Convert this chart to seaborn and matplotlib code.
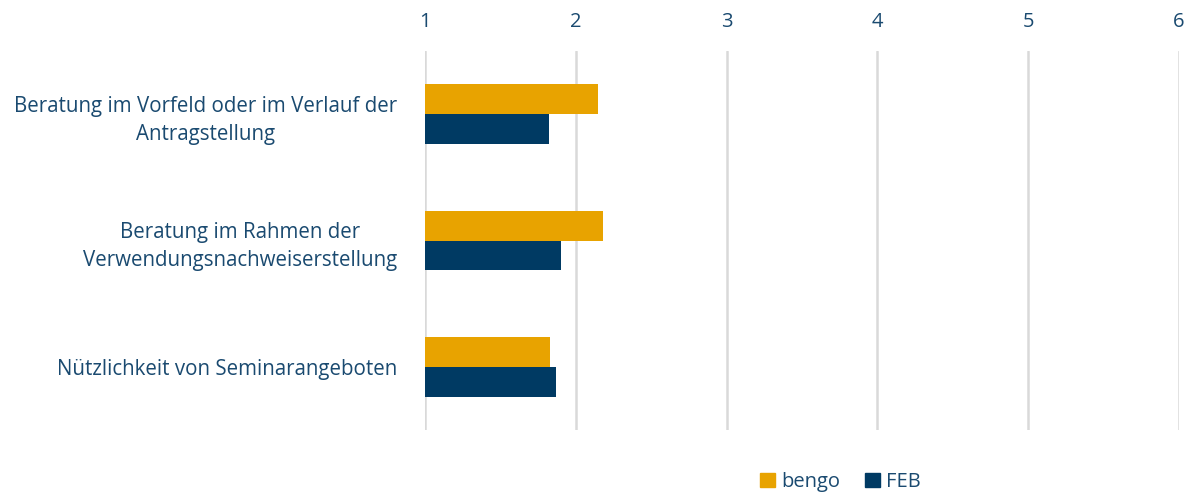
import pandas as pd
import numpy as np
import matplotlib
matplotlib.use('Agg')
import matplotlib.pyplot as plt
import seaborn as sns
from matplotlib.patches import Patch

categories = ['Beratung im Vorfeld oder im Verlauf der\nAntragstellung',
              'Beratung im Rahmen der\nVerwendungsnachweiserstellung',
              'Nützlichkeit von Seminarangeboten']
bengo = [2.15, 2.18, 1.83]
feb = [1.82, 1.90, 1.87]
series = ['bengo', 'FEB']
x_ticks = [1, 2, 3, 4, 5, 6]

colors = {'bengo': '#E8A300', 'FEB': '#003A63'}
text_color = '#1A4A70'

df = pd.DataFrame({
    'Kategorie': categories * 2,
    'Wert': bengo + feb,
    'Reihe': ['bengo'] * 3 + ['FEB'] * 3,
})

sns.set_theme(style="white")
plt.rcParams['font.family'] = ['Open Sans', 'DejaVu Sans']

fig = plt.figure(figsize=(11.92, 4.97), dpi=100)
ax = fig.add_axes([0.3565, 0.135, 0.989 - 0.3565, 0.762])

sns.barplot(data=df, y='Kategorie', x='Wert', hue='Reihe', orient='h',
            palette=colors, width=0.474, ax=ax, legend=False, saturation=1,
            linewidth=0)

# Balken beginnen bei 1 (Achsenursprung)
for p in ax.patches:
    w = p.get_width()
    p.set_x(1)
    p.set_width(w - 1)

ax.set_xlim(1, 6)
ax.set_ylim(2.5, -0.5)
ax.set_xticks(x_ticks)
ax.xaxis.tick_top()
ax.tick_params(axis='x', length=0, labelsize=14.5, colors=text_color, pad=14)
ax.tick_params(axis='y', length=0, labelsize=14.8, colors=text_color, pad=20)
for lab in ax.get_yticklabels():
    lab.set_multialignment('center')
    lab.set_linespacing(1.45)
ax.set_xlabel('')
ax.set_ylabel('')
ax.grid(axis='x', color='#D9D9D9', linewidth=1.8)
ax.set_axisbelow(True)
for s in ax.spines.values():
    s.set_visible(False)

handles = [Patch(color=colors[s], label=s) for s in series]
leg = fig.legend(handles=handles, loc='center', bbox_to_anchor=(0.705, 0.03),
                 ncol=2, frameon=False, fontsize=14.5, handlelength=0.75,
                 handleheight=0.75, handletextpad=0.3, columnspacing=1.2)
for t in leg.get_texts():
    t.set_color(text_color)

fig.savefig('out.png', dpi=100)
